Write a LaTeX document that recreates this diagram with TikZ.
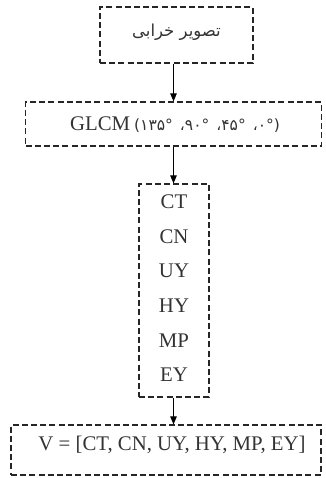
\documentclass[tikz,border=0pt]{standalone}
\usepackage{fontspec}
\setmainfont{Liberation Serif}
\newfontfamily\fa[Script=Arabic]{DejaVu Sans}
\newfontfamily\fadig{DejaVu Sans}
\TeXXeTstate=1
\usetikzlibrary{arrows.meta}
\newcommand{\pd}[1]{\hbox{\fadig\fontsize{15.5}{18}\selectfont #1}}
\newcommand{\pgap}{\hspace{7pt}}
\tikzset{
  dbox/.style={draw=black!85, dash pattern=on 6pt off 3.2pt, line width=1.2pt, rectangle, inner sep=0pt},
  conn/.style={line width=1pt, -{Triangle[length=8pt,width=6.5pt]}},
  txt/.style={font=\fontsize{20.8}{24}\selectfont, text=black!80, inner sep=0pt},
}
\begin{document}
\begin{tikzpicture}[x=1pt,y=-1pt]
\useasboundingbox (0,0) rectangle (325,478);
% boxes
\node[dbox, minimum width=153pt, minimum height=56pt] (b1) at (176.5,35) {};
\node[dbox, minimum width=296pt, minimum height=44pt] (b2) at (173.5,124) {};
\node[dbox, minimum width=70pt, minimum height=213pt] (b3) at (174,290.5) {};
\node[dbox, minimum width=310pt, minimum height=50pt] (b4) at (166,450) {};
% texts
\node[txt, font=\fa\fontsize{16.5}{20}\selectfont] (t1) at (176.5,32) {\beginR تصویر خرابی\endR};
\node[txt, anchor=base] (t2) at (175,131) {GLCM\hspace{4pt}\pd{(}\pd{۱}\pd{۳}\pd{۵}\pd{°}\pgap\pd{،}\pd{۹}\pd{۰}\pd{°}\pgap\pd{،}\pd{۴}\pd{۵}\pd{°}\pgap\pd{،}\pd{۰}\pd{°}\pd{)}};
\node[txt] (i1) at (174,202) {CT};
\node[txt] (i2) at (174,236.5) {CN};
\node[txt] (i3) at (174,271) {UY};
\node[txt] (i4) at (174,305.5) {HY};
\node[txt] (i5) at (174,340.5) {MP};
\node[txt] (i6) at (174,375) {EY};
\node[txt] (t4) at (172,445) {V = [CT, CN, UY, HY, MP, EY]};
% connectors
\coordinate (a1) at (b1.south -| b2.north);
\coordinate (a2) at (b2.south |- b3.north);
\coordinate (a3) at (b3.south -| b2.south);
\coordinate (a4) at (b4.north -| b2.south);
\draw[conn] (a1) -- (b2.north);
\draw[conn] (b2.south) -- (a2);
\draw[conn] (a3) -- (a4);
\end{tikzpicture}
\end{document}
